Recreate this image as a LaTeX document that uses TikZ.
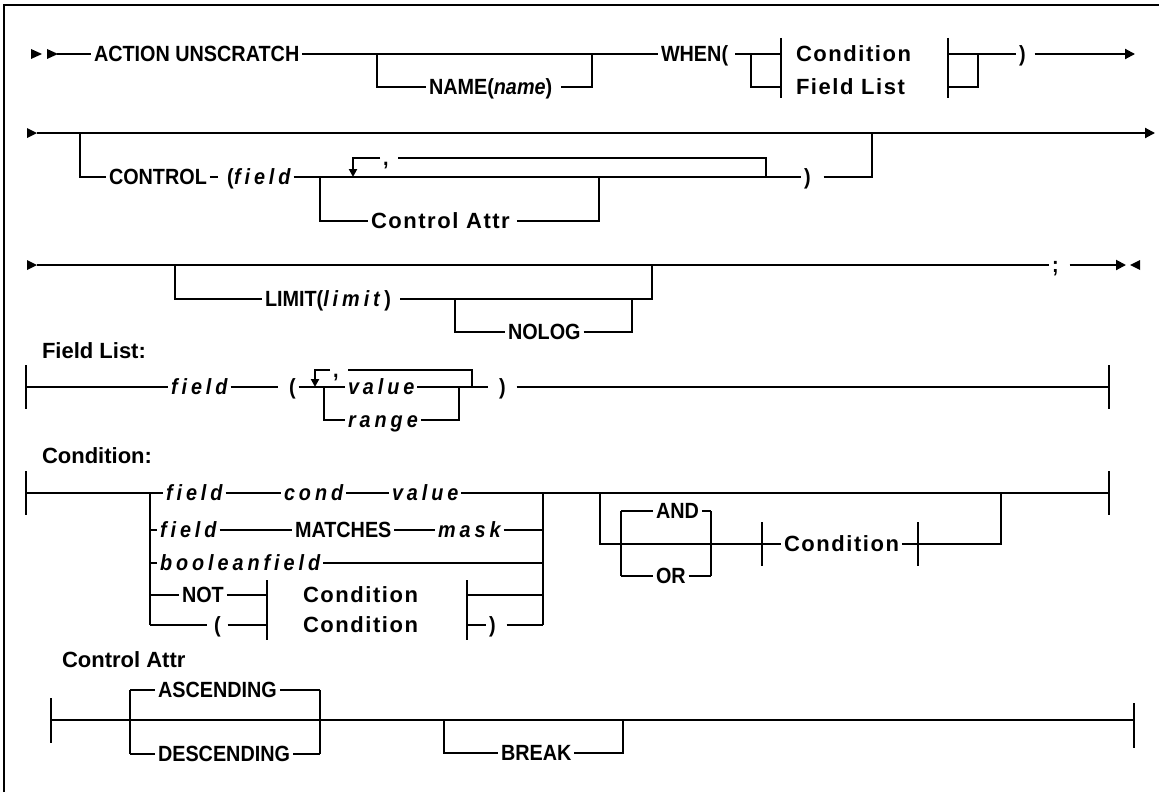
\documentclass[tikz,border=0pt]{standalone}
\usepackage{fontspec}
\setmainfont{Liberation Sans}
\usetikzlibrary{positioning,arrows.meta}

\begin{document}
\begin{tikzpicture}[
        x=0.5pt, y=-0.5pt, line width=1pt,
        keyword/.style={font=\fontsize{11}{13}\selectfont\bfseries\addfontfeature{FakeStretch=0.9}, inner xsep=1pt, inner ysep=0pt, text height=0.72em, text depth=0pt, anchor=west},
        argword/.style={keyword, font=\fontsize{11}{13}\selectfont\bfseries\itshape\addfontfeature{FakeStretch=0.9,LetterSpace=18}},
        refword/.style={keyword, font=\fontsize{11}{13}\selectfont\bfseries\addfontfeature{LetterSpace=7}},
        titletext/.style={font=\fontsize{11}{13}\selectfont\bfseries, inner sep=0pt, anchor=west},
        arrowline/.style={-{Triangle[length=5pt,width=5pt]}},
        looparrow/.style={-{Triangle[length=4pt,width=4pt]}},
]
        \fill[white] (0,0) rectangle (1159,792);
        \useasboundingbox (0,0) rectangle (1159,792);
        \draw[line width=0.8pt] (4,792) -- (4,5) -- (1159,5);

        \fill (31,49) -- (42,54) -- (31,59) -- cycle;
        \fill (47,49) -- (58,54) -- (47,59) -- cycle;
        \coordinate (start1) at (57,54);
        \node[keyword] (action) at (91,54) {ACTION UNSCRATCH};
        \coordinate (nameleft) at (377,54);
        \coordinate (nameright) at (592,54);
        \node[keyword] (name) at (426,87) {NAME(\textit{name})};
        \node[keyword] (when) at (658,54) {WHEN(};
        \coordinate (whenleft) at (751,54);
        \coordinate (boxleft) at (781,54);
        \node[refword] (boxcond) at (793,54) {Condition};
        \node[refword] (boxfield) at (793,87) {Field List};
        \coordinate (boxright) at (948,54);
        \coordinate (whenright) at (978,54);
        \node[keyword] (whenclose) at (1016,54) {)};
        \coordinate (end1) at (1135,54);

        \draw (start1) -- (action.west);
        \draw (action.east) -- (when.west);
        \draw (nameleft) |- (name.west);
        \draw[shorten <=3pt] (name.east) -| (nameright);
        \draw[shorten <=2pt] (when.east) -- (boxleft);
        \draw (whenleft) |- (boxleft |- boxfield.west);
        \draw (boxleft) ++(0,-16) -- ++(0,60);
        \draw (boxright) ++(0,-16) -- ++(0,60);
        \draw (boxright) -- (whenclose.west);
        \draw (boxright |- boxfield.west) -| (whenright);
        \draw[arrowline, shorten <=3pt] (whenclose.east) -- (end1);

        \fill (27,128) -- (37,133) -- (27,138) -- cycle;
        \coordinate (start2) at (37,133);
        \coordinate (end2) at (1155,133);
        \coordinate (controlleft) at (80,133);
        \coordinate (controlright) at (872,133);
        \node[keyword] (control) at (106,177) {CONTROL};
        \node[keyword] (controlopen) at (224,177) {(};
        \node[argword] (controlfield) at (231,177) {field};
        \coordinate (attrleft) at (320,177);
        \coordinate (repeatleft) at (353,177);
        \node[keyword] (controlcomma) at (380,158) {,};
        \coordinate (attrright) at (599,177);
        \coordinate (repeatright) at (766,177);
        \node[keyword] (controlclose) at (801,177) {)};
        \node[refword] (attr) at (368,221) {Control Attr};

        \draw[arrowline] (start2) -- (end2);
        \draw (controlleft) |- (control.west);
        \draw[shorten >=3pt] (control.east) -- (controlopen.west);
        \draw (controlfield.east) -- (controlclose.west);
        \draw[shorten <=5pt] (controlclose.east) -| (controlright);
        \draw (attrleft) |- (attr.west);
        \draw[shorten <=2pt] (attr.east) -| (attrright);
        \draw[shorten >=3pt] (repeatright) |- (controlcomma.east);
        \draw[looparrow] (controlcomma.west) -| (repeatleft);

        \fill (27,260) -- (37,265) -- (27,270) -- cycle;
        \coordinate (start3) at (37,265);
        \node[keyword] (semicolon) at (1049,265) {;};
        \coordinate (end3) at (1126,265);
        \fill (1140,260) -- (1130,265) -- (1140,270) -- cycle;
        \coordinate (limitleft) at (175,265);
        \coordinate (limitright) at (652,265);
        \node[keyword] (limit) at (262,299) {LIMIT(\textit{\addfontfeature{LetterSpace=18}limit})};
        \coordinate (nologleft) at (455,299);
        \coordinate (nologright) at (632,299);
        \node[keyword] (nolog) at (505,332) {NOLOG};

        \draw (start3) -- (semicolon.west);
        \draw[arrowline, shorten <=4pt] (semicolon.east) -- (end3);
        \draw (limitleft) |- (limit.west);
        \draw[shorten <=3pt] (limit.east) -| (limitright);
        \draw (nologleft) |- (nolog.west);
        \draw (nolog.east) -| (nologright);

        \node[titletext] (fieldlisttitle) at (41,351) {Field List:};
        \coordinate (fieldlistbar) at (26,387);
        \node[argword] (flfield) at (168,387) {field};
        \node[keyword] (flopen) at (286,387) {(};
        \coordinate (flrepeatleft) at (315,387);
        \coordinate (flrangeleft) at (324,387);
        \node[keyword] (flcomma) at (330,370) {,};
        \node[argword] (flvalue) at (345,387) {value};
        \node[argword] (flrange) at (345,420) {range};
        \coordinate (flrangeright) at (459,387);
        \coordinate (flrepeatright) at (472,387);
        \node[keyword] (flclose) at (496,387) {)};
        \coordinate (fieldlistend) at (1109,387);

        \draw (fieldlistbar) ++(0,-22) -- ++(0,44);
        \draw (fieldlistend) ++(0,-22) -- ++(0,44);
        \draw (fieldlistbar) -- (flfield.west);
        \draw[shorten >=4pt] (flfield.east) -- (flopen.west);
        \draw (flopen.east) -- (flvalue.west);
        \draw[shorten >=4pt] (flvalue.east) -- (flclose.west);
        \draw[shorten <=4pt] (flclose.east) -- (fieldlistend);
        \draw (flrangeleft) |- (flrange.west);
        \draw (flrange.east) -| (flrangeright);
        \draw[shorten >=3pt] (flrepeatright) |- (flcomma.east);
        \draw[looparrow] (flcomma.west) -| (flrepeatleft);

        \node[titletext] (conditiontitle) at (41,456) {Condition:};
        \coordinate (conditionbar) at (26,493);
        \coordinate (choiceleft) at (150,493);
        \node[argword] (cafield) at (163,493) {field};
        \node[argword] (cacond) at (281,493) {cond};
        \node[argword] (cavalue) at (389,493) {value};
        \coordinate (choiceright) at (543,493);
        \node[argword] (cbfield) at (157,530) {field};
        \node[keyword] (cbmatches) at (292,530) {MATCHES};
        \node[argword] (cbmask) at (435,530) {mask};
        \node[argword] (ccboolean) at (157,563) {booleanfield};
        \node[keyword] (cdnot) at (179,595) {NOT};
        \coordinate (cdbarleft) at (267,595);
        \node[refword] (cdcondition) at (300,595) {Condition};
        \coordinate (cdbarright) at (467,595);
        \node[keyword] (ceopen) at (211,625) {(};
        \coordinate (cebarleft) at (267,625);
        \node[refword] (cecondition) at (300,625) {Condition};
        \coordinate (cebarright) at (467,625);
        \node[keyword] (ceclose) at (486,625) {)};
        \coordinate (loopleft) at (600,493);
        \coordinate (andorleft) at (621,544);
        \node[keyword] (and) at (653,511) {AND};
        \node[keyword] (or) at (653,576) {OR};
        \coordinate (andorright) at (711,544);
        \coordinate (loopbarleft) at (762,544);
        \node[refword] (loopcondition) at (781,544) {Condition};
        \coordinate (loopbarright) at (918,544);
        \coordinate (loopright) at (1001,493);
        \coordinate (conditionend) at (1109,493);

        \draw (conditionbar) ++(0,-22) -- ++(0,44);
        \draw (conditionend) ++(0,-22) -- ++(0,44);
        \draw (conditionbar) -- (cafield.west);
        \draw (cafield.east) -- (cacond.west);
        \draw (cacond.east) -- (cavalue.west);
        \draw (cavalue.east) -- (conditionend);
        \draw (choiceleft) -- (choiceleft |- ceopen.west);
        \draw (choiceright) -- (choiceright |- ceclose.east);
        \draw (choiceleft |- cbfield.west) -- (cbfield.west);
        \draw (cbfield.east) -- (cbmatches.west);
        \draw (cbmatches.east) -- (cbmask.west);
        \draw (cbmask.east) -- (choiceright |- cbmask.east);
        \draw (choiceleft |- ccboolean.west) -- (ccboolean.west);
        \draw (ccboolean.east) -- (choiceright |- ccboolean.east);
        \draw (choiceleft |- cdnot.west) -- (cdnot.west);
        \draw (cdnot.east) -- (cdbarleft);
        \draw (cdbarleft) ++(0,-15) -- ++(0,30);
        \draw (cdbarright) ++(0,-15) -- ++(0,30);
        \draw (cdbarright) -- (choiceright |- cdbarright);
        \draw[shorten >=2pt] (choiceleft |- ceopen.west) -- (ceopen.west);
        \draw[shorten <=2pt] (ceopen.east) -- (cebarleft);
        \draw (cebarleft) ++(0,-15) -- ++(0,30);
        \draw (cebarright) ++(0,-15) -- ++(0,30);
        \draw (cebarright) -- (ceclose.west);
        \draw[shorten <=4pt] (ceclose.east) -- (choiceright |- ceclose.east);

        \draw (loopleft) |- (loopbarleft);
        \draw (andorleft |- and.west) -- (andorleft |- or.west);
        \draw (andorright |- and.east) -- (andorright |- or.east);
        \draw (andorleft |- and.west) -- (and.west);
        \draw (and.east) -- (andorright |- and.east);
        \draw (andorleft |- or.west) -- (or.west);
        \draw (or.east) -- (andorright |- or.east);
        \draw (loopbarleft) ++(0,-22) -- ++(0,44);
        \draw (loopbarleft) -- (loopcondition.west);
        \draw (loopcondition.east) -- (loopbarright);
        \draw (loopbarright) ++(0,-22) -- ++(0,44);
        \draw (loopbarright) -| (loopright);

        \node[titletext] (attrtitle) at (61,660) {Control Attr};
        \coordinate (attrbar) at (51,720);
        \coordinate (sortleft) at (130,720);
        \node[keyword] (ascending) at (155,690) {ASCENDING};
        \node[keyword] (descending) at (155,754) {DESCENDING};
        \coordinate (sortright) at (320,720);
        \coordinate (breakleft) at (444,720);
        \node[keyword] (breakopt) at (498,753) {BREAK};
        \coordinate (breakright) at (623,720);
        \coordinate (attrend) at (1134,720);

        \draw (attrbar) ++(0,-22) -- ++(0,45);
        \draw (attrend) ++(0,-17) -- ++(0,45);
        \draw (attrbar) -- (attrend);
        \draw (sortleft |- ascending.west) -- (sortleft |- descending.west);
        \draw (sortright |- ascending.east) -- (sortright |- descending.east);
        \draw (sortleft |- ascending.west) -- (ascending.west);
        \draw (ascending.east) -- (sortright |- ascending.east);
        \draw (sortleft |- descending.west) -- (descending.west);
        \draw (descending.east) -- (sortright |- descending.east);
        \draw (breakleft) |- (breakopt.west);
        \draw (breakopt.east) -| (breakright);
\end{tikzpicture}
\end{document}
